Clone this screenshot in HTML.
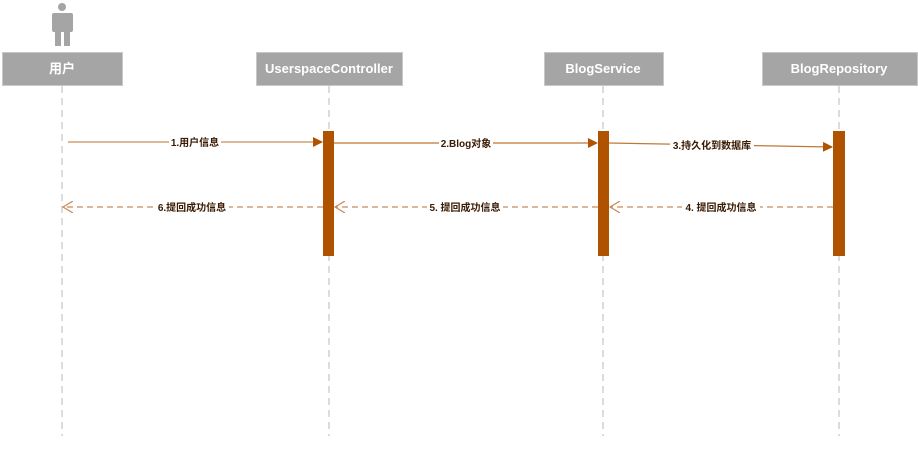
<!DOCTYPE html>
<html><head><meta charset="utf-8"><style>
html,body{margin:0;padding:0;background:#fff;}
svg{display:block;}
text{font-family:"Liberation Sans","Noto Sans CJK SC",sans-serif;}
</style></head><body>
<svg width="918" height="460" viewBox="0 0 918 460" xmlns="http://www.w3.org/2000/svg">
<defs>
<marker id="fa" markerWidth="10" markerHeight="10" refX="9" refY="5" orient="auto" markerUnits="userSpaceOnUse"><path d="M0,0 L10,5 L0,10 z" fill="#b05300"/></marker>
<marker id="oa" markerWidth="12" markerHeight="12" refX="10" refY="6" orient="auto" markerUnits="userSpaceOnUse"><path d="M0,0 L10,6 L0,12" fill="none" stroke="#c98a5a" stroke-width="1.2"/></marker>
</defs>
<g fill="#a5a5a5">
<circle cx="62" cy="7" r="4"/>
<rect x="52" y="13" width="21" height="19" rx="2"/>
<rect x="55" y="28" width="6" height="18"/>
<rect x="64" y="28" width="6" height="18"/>
</g>
<g stroke="#b8b8b8" stroke-width="1" stroke-dasharray="7,5">
<line x1="62" y1="86" x2="62" y2="436"/>
<line x1="329" y1="86" x2="329" y2="436"/>
<line x1="603" y1="86" x2="603" y2="436"/>
<line x1="839" y1="86" x2="839" y2="436"/>
</g>
<g fill="#a5a5a5" stroke="#c8c8c8" stroke-width="1">
<rect x="2.5" y="52.5" width="120" height="33"/>
<rect x="256.5" y="52.5" width="146" height="33"/>
<rect x="544.5" y="52.5" width="119" height="33"/>
<rect x="762.5" y="52.5" width="155" height="33"/>
</g>
<g fill="#fff" font-size="13" text-anchor="middle" font-weight="bold">
<text x="62" y="73">用户</text>
<text x="329" y="73">UserspaceController</text>
<text x="603" y="73">BlogService</text>
<text x="839" y="73">BlogRepository</text>
</g>
<g fill="#b05300">
<rect x="323" y="131" width="11" height="125"/>
<rect x="598" y="131" width="11" height="125"/>
<rect x="833" y="131" width="12" height="125"/>
</g>
<line x1="68" y1="142" x2="322" y2="142" stroke="#d4a070" stroke-width="1.5" marker-end="url(#fa)"/>
<line x1="334" y1="143" x2="597" y2="143" stroke="#b05300" stroke-width="1" marker-end="url(#fa)"/>
<line x1="609" y1="143" x2="832" y2="147" stroke="#c0783a" stroke-width="1.2" marker-end="url(#fa)"/>
<g stroke="#c98a5a" stroke-width="1.2" stroke-dasharray="6,4" fill="none">
<line x1="833" y1="207" x2="610" y2="207" marker-end="url(#oa)"/>
<line x1="598" y1="207" x2="335" y2="207" marker-end="url(#oa)"/>
<line x1="323" y1="207" x2="63" y2="207" marker-end="url(#oa)"/>
</g>
<g fill="#fff">
<rect x="169" y="136" width="52" height="12"/>
<rect x="439" y="137" width="54" height="12"/>
<rect x="670" y="139" width="84" height="12"/>
<rect x="155" y="201" width="74" height="12"/>
<rect x="427" y="201" width="76" height="12"/>
<rect x="682" y="201" width="78" height="12"/>
</g>
<g fill="#3a1a00" font-size="10" font-weight="bold" text-anchor="middle">
<text x="195" y="146">1.用户信息</text>
<text x="466" y="147">2.Blog对象</text>
<text x="712" y="149">3.持久化到数据库</text>
<text x="192" y="211">6.提回成功信息</text>
<text x="465" y="211">5. 提回成功信息</text>
<text x="721" y="211">4. 提回成功信息</text>
</g>
</svg>
</body></html>
